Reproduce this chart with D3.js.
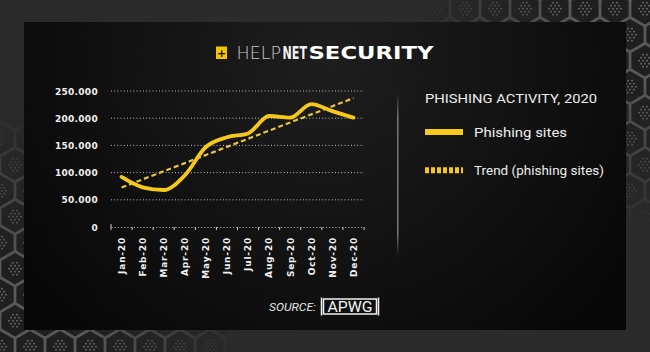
<!DOCTYPE html>
<html><head><meta charset="utf-8">
<script src="https://cdn.jsdelivr.net/npm/d3@7"></script>
<style>html,body{margin:0;padding:0;background:#2b2b2b;overflow:hidden}</style>
</head><body>
<svg id="c" width="650" height="352"></svg>
<script>
const months = ["Jan-20","Feb-20","Mar-20","Apr-20","May-20","Jun-20","Jul-20","Aug-20","Sep-20","Oct-20","Nov-20","Dec-20"];
const phishingSites = [92000, 73000, 68000, 95000, 147000, 165000, 172000, 204000, 201000, 226000, 213000, 201000];
const yTicks = [0, 50000, 100000, 150000, 200000, 250000];
const legendTitle = "PHISHING ACTIVITY, 2020";
const seriesNames = ["Phishing sites", "Trend (phishing sites)"];

const YELLOW = "#f7c81c", TREND = "#e9c443";
const svg = d3.select("#c");
const defs = svg.append("defs");

// ---- background: hex pattern in outer frame
const hp = defs.append("pattern").attr("id","hex").attr("patternUnits","userSpaceOnUse")
  .attr("width",30).attr("height",52);
function hexPath(cx, cy, r){
  const pts = d3.range(6).map(i=>{const a=Math.PI/3*i+Math.PI/6;return [cx+r*Math.cos(a), cy+r*Math.sin(a)];});
  return "M"+pts.join("L")+"Z";
}
hp.append("rect").attr("width",30).attr("height",52).attr("fill","#2b2b2b");
[[15,8.7],[0,34.7],[30,34.7],[0,-17.3],[30,-17.3],[15,60.7]].forEach(([cx,cy])=>{
  hp.append("path").attr("d",hexPath(cx,cy,16.6)).attr("fill","#1f1f1f").attr("stroke","#5a5a5a").attr("stroke-width",1.5);
  [[-4,-3],[0,-3],[4,-3],[-6,0],[-2,0],[2,0],[6,0],[-4,3],[0,3],[4,3],[-2,6],[2,6],[-2,-6],[2,-6]].forEach(([dx,dy])=>{
    hp.append("circle").attr("cx",cx+dx).attr("cy",cy+dy).attr("r",0.9).attr("fill","#6e6e6e");
  });
});
function radialMask(id, cx, cy, r){
  const rg = defs.append("radialGradient").attr("id",id+"g").attr("cx",cx).attr("cy",cy).attr("r",r).attr("gradientUnits","userSpaceOnUse");
  rg.append("stop").attr("offset","0.35").attr("stop-color","#fff");
  rg.append("stop").attr("offset","1").attr("stop-color","#000");
  defs.append("mask").attr("id",id).append("rect").attr("width",650).attr("height",352).attr("fill",`url(#${id}g)`);
}
radialMask("m1", 650, 0, 230);
radialMask("m2", 0, 352, 240);
svg.append("rect").attr("width",650).attr("height",352).attr("fill","#2b2b2b");
svg.append("rect").attr("width",650).attr("height",352).attr("fill","url(#hex)").attr("mask","url(#m1)");
svg.append("rect").attr("width",650).attr("height",352).attr("fill","url(#hex)").attr("mask","url(#m2)");

// ---- inner panel
const pg = defs.append("radialGradient").attr("id","pg").attr("cx",325).attr("cy",60).attr("r",380).attr("gradientUnits","userSpaceOnUse");
pg.append("stop").attr("offset","0").attr("stop-color","#1e1e1e");
pg.append("stop").attr("offset","1").attr("stop-color","#070707");
svg.append("rect").attr("x",24).attr("y",22).attr("width",602).attr("height",308).attr("fill","url(#pg)");

// ---- logo
const logo = svg.append("g");
logo.append("rect").attr("x",216).attr("y",46.5).attr("width",11).attr("height",12.5).attr("fill","#f5c400");
logo.append("text").attr("x",221.5).attr("y",56.5).attr("text-anchor","middle").attr("font-family","DejaVu Sans").attr("font-size",11).attr("font-weight",700).attr("fill","#111").text("+");
function logoWord(txt, x0, w, weight, color){
  const t = logo.append("text").attr("x",0).attr("y",0).attr("font-family","'DejaVu Sans'")
    .attr("font-size",17).attr("font-weight",weight).attr("fill",color).text(txt);
  const nat = t.node().getComputedTextLength();
  t.attr("transform",`translate(${x0},59.3) scale(${w/nat},1)`);
}
logoWord("HELP", 236.5, 44.5, 200, "#c8c8c8");
logoWord("NET", 282.5, 24.5, 700, "#f2f2f2");
logoWord("SECURITY", 308.5, 125, 900, "#ffffff");

// ---- chart
const x = d3.scaleBand().domain(months).range([111, 364]);
const y = d3.scaleLinear().domain([0, 250000]).range([227, 91]);
const loc = d3.formatLocale({decimal:",", thousands:".", grouping:[3], currency:["",""]});
const fmt = loc.format(",d");
const cx = m => x(m) + x.bandwidth()/2;

const g = svg.append("g");
g.selectAll("line.grid").data(yTicks.filter(v=>v>0)).join("line")
  .attr("x1",111).attr("x2",364).attr("y1",d=>y(d)).attr("y2",d=>y(d))
  .attr("stroke","#bdbdbd").attr("stroke-width",1).attr("stroke-dasharray","1,2.2");
g.selectAll("text.yl").data(yTicks).join("text")
  .attr("x",98).attr("y",d=>y(d)+3.5).attr("text-anchor","end")
  .attr("font-family","'DejaVu Sans'").attr("font-weight",700).attr("font-size",9)
  .attr("letter-spacing",0.3).attr("fill","#f0f0f0").text(d=>fmt(d));
const xa = g.append("g").attr("transform","translate(0,"+y(0)+")")
  .call(d3.axisBottom(x).tickSize(0).tickFormat(""));
xa.select(".domain").attr("stroke","#bdbdbd").attr("stroke-dasharray","1,2.2");
g.selectAll("line.xt").data(months.concat(["end"])).join("line")
  .attr("x1",(d,i)=> i<12 ? x(d) : x(months[11])+x.bandwidth())
  .attr("x2",(d,i)=> i<12 ? x(d) : x(months[11])+x.bandwidth())
  .attr("y1",(d,i)=> i===0 ? y(0)-3 : y(0)).attr("y2",y(0)+3)
  .attr("stroke","#cfcfcf").attr("stroke-width",1);
g.selectAll("text.xl").data(months).join("text")
  .attr("transform",d=>`translate(${cx(d)+3.3},${y(0)+10}) rotate(-90)`)
  .attr("text-anchor","end")
  .attr("font-family","'DejaVu Sans'").attr("font-weight",700).attr("font-size",9)
  .attr("letter-spacing",0.8).attr("fill","#f0f0f0").text(d=>d);

// trend (least squares)
const n = phishingSites.length;
const mx = d3.mean(d3.range(n)), my = d3.mean(phishingSites);
const slope = d3.sum(d3.range(n), i=>(i-mx)*(phishingSites[i]-my)) / d3.sum(d3.range(n), i=>(i-mx)*(i-mx));
const icpt = my - slope*mx;
const trend = months.map((m,i)=>icpt+slope*i);
g.append("path").datum(trend)
  .attr("d", d3.line().x((d,i)=>cx(months[i])).y(d=>y(d)))
  .attr("fill","none").attr("stroke",TREND).attr("stroke-width",2.2).attr("stroke-dasharray","5,3");
g.append("path").datum(phishingSites)
  .attr("d", d3.line().x((d,i)=>cx(months[i])).y(d=>y(d)).curve(d3.curveMonotoneX))
  .attr("fill","none").attr("stroke",YELLOW).attr("stroke-width",3.8)
  .attr("stroke-linejoin","round").attr("stroke-linecap","round");

// divider
const dg = defs.append("linearGradient").attr("id","dg").attr("x1",0).attr("y1",0).attr("x2",0).attr("y2",1);
dg.append("stop").attr("offset","0").attr("stop-color","#666").attr("stop-opacity",0);
dg.append("stop").attr("offset","0.15").attr("stop-color","#777");
dg.append("stop").attr("offset","0.85").attr("stop-color","#777");
dg.append("stop").attr("offset","1").attr("stop-color","#666").attr("stop-opacity",0);
svg.append("rect").attr("x",397).attr("y",92).attr("width",1.5).attr("height",166).attr("fill","url(#dg)");

// legend
const lg = svg.append("g");
lg.append("text").attr("x",425).attr("y",102.7)
  .attr("font-family","Roboto, sans-serif").attr("font-size",13.2)
  .attr("fill","#ececec").attr("textLength",172).attr("lengthAdjust","spacingAndGlyphs").text(legendTitle);
lg.append("line").attr("x1",425).attr("x2",463).attr("y1",132).attr("y2",132)
  .attr("stroke",YELLOW).attr("stroke-width",6);
lg.append("line").attr("x1",425).attr("x2",463).attr("y1",170.3).attr("y2",170.3)
  .attr("stroke",YELLOW).attr("stroke-width",6).attr("stroke-dasharray","4,2");
lg.selectAll("text.li").data(seriesNames).join("text")
  .attr("x",474).attr("y",(d,i)=> i===0 ? 136.7 : 175)
  .attr("font-family","Roboto, sans-serif").attr("font-size",13)
  .attr("fill","#ececec").attr("textLength",(d,i)=> i===0 ? 93 : 130).attr("lengthAdjust","spacingAndGlyphs").text(d=>d);

// source
const sg = svg.append("g");
sg.append("text").attr("x",269).attr("y",311).attr("font-family","Roboto, sans-serif").attr("font-style","italic")
  .attr("font-size",11.5).attr("fill","#e6e6e6").attr("textLength",47).attr("lengthAdjust","spacingAndGlyphs").text("SOURCE:");
sg.append("rect").attr("x",323.5).attr("y",299).attr("width",53).attr("height",15).attr("fill","none").attr("stroke","#f2f2f2").attr("stroke-width",1.5);
sg.append("line").attr("x1",321.5).attr("x2",321.5).attr("y1",297.5).attr("y2",315.5).attr("stroke","#f2f2f2").attr("stroke-width",1.5);
sg.append("line").attr("x1",378.5).attr("x2",378.5).attr("y1",297.5).attr("y2",315.5).attr("stroke","#f2f2f2").attr("stroke-width",1.5);
sg.append("text").attr("x",350).attr("y",312).attr("text-anchor","middle").attr("font-family","Roboto, sans-serif")
  .attr("font-size",15).attr("fill","#f5f5f5").attr("textLength",45).attr("lengthAdjust","spacingAndGlyphs").text("APWG");
</script>
</body></html>
